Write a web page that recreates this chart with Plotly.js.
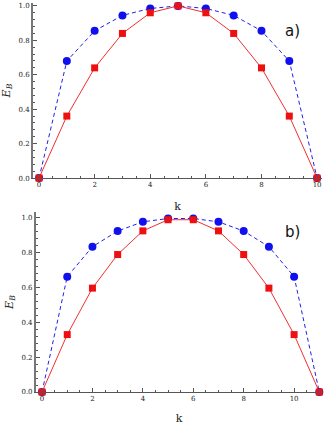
<!DOCTYPE html>
<html>
<head>
<meta charset="utf-8">
<script src="https://cdn.plot.ly/plotly-3.0.1.min.js"></script>
<style>
  html, body { margin: 0; padding: 0; background: #fff; }
  #chart { width: 327px; height: 425px; }
</style>
</head>
<body>
<div id="chart"></div>
<script>
// panel a) k = 0..10
var kA = [0, 1, 2, 3, 4, 5, 6, 7, 8, 9, 10];
var blueA = [0, 0.68, 0.855, 0.945, 0.985, 1.0, 0.985, 0.945, 0.855, 0.68, 0];
var redA = [0, 0.36, 0.64, 0.84, 0.96, 1.0, 0.96, 0.84, 0.64, 0.36, 0];

// panel b) k = 0..11
var kB = [0, 1, 2, 3, 4, 5, 6, 7, 8, 9, 10, 11];
var blueB = [0, 0.663, 0.835, 0.925, 0.978, 0.997, 0.997, 0.978, 0.925, 0.835, 0.663, 0];
var redB = [0, 0.33, 0.597, 0.79, 0.926, 0.99, 0.99, 0.926, 0.79, 0.597, 0.33, 0];

var panelLabels = ['a)', 'b)'];

var CHART = document.getElementById('chart');

function blue(x, y, xa, ya) {
    return {
        x: x, y: y, xaxis: xa, yaxis: ya,
        type: 'scatter', mode: 'lines+markers', cliponaxis: false,
        line: { color: '#2020f0', width: 1, dash: '4px,3px' },
        marker: { color: '#1010ee', symbol: 'circle', size: 8 },
        showlegend: false
    };
}
function red(x, y, xa, ya) {
    return {
        x: x, y: y, xaxis: xa, yaxis: ya,
        type: 'scatter', mode: 'lines+markers', cliponaxis: false,
        line: { color: '#f03030', width: 1 },
        marker: { color: '#ee1010', symbol: 'square', size: 7 },
        showlegend: false
    };
}

var data = [
    blue(kA, blueA, 'x', 'y'),
    red(kA, redA, 'x', 'y'),
    blue(kB, blueB, 'x2', 'y2'),
    red(kB, redB, 'x2', 'y2')
];

var tickFont = { family: 'DejaVu Serif, serif', size: 7, color: '#222' };

function xax(domain, range, anchor) {
    return {
        domain: domain, range: range, anchor: anchor,
        showgrid: false, zeroline: false,
        showline: true, linecolor: '#555', linewidth: 1,
        ticks: 'inside', ticklen: 4, tickcolor: '#555',
        tick0: 0, dtick: 2,
        minor: { ticks: 'inside', ticklen: 2, dtick: 0.5, tickcolor: '#555' },
        tickfont: tickFont,
        title: { text: 'k', font: { family: 'DejaVu Serif, serif', size: 11, color: '#222' }, standoff: 13 }
    };
}
function yax(domain, range, anchor) {
    return {
        domain: domain, range: range, anchor: anchor,
        showgrid: false, zeroline: false,
        showline: true, linecolor: '#777', linewidth: 2,
        ticks: 'inside', ticklen: 4, tickcolor: '#555',
        tick0: 0, dtick: 0.2, tickformat: '.1f',
        minor: { ticks: 'inside', ticklen: 2, dtick: 0.04, tickcolor: '#555' },
        tickfont: tickFont,
        title: { text: '<i>E</i><sub><i>B</i></sub>', font: { family: 'DejaVu Serif, serif', size: 11, color: '#222' }, standoff: 6 }
    };
}

var layout = {
    width: 327, height: 425,
    margin: { l: 0, r: 0, t: 0, b: 0 },
    paper_bgcolor: '#fff', plot_bgcolor: '#fff',
    xaxis: xax([0.101, 0.985], [-0.216, 10.18], 'y'),
    yaxis: yax([0.581, 0.993], [0, 1.017], 'x'),
    xaxis2: xax([0.110, 0.985], [-0.24, 11.11], 'y2'),
    yaxis2: yax([0.0776, 0.501], [0, 1.034], 'x2'),
    annotations: [
        { text: panelLabels[0], xref: 'paper', yref: 'paper', x: 302 / 327, y: 1 - 20 / 425,
          showarrow: false, font: { family: 'DejaVu Sans, sans-serif', size: 15, color: '#111' } },
        { text: panelLabels[1], xref: 'paper', yref: 'paper', x: 302 / 327, y: 1 - 232 / 425,
          showarrow: false, font: { family: 'DejaVu Sans, sans-serif', size: 15, color: '#111' } }
    ]
};

Plotly.newPlot(CHART, data, layout, { staticPlot: true });
</script>
</body>
</html>
